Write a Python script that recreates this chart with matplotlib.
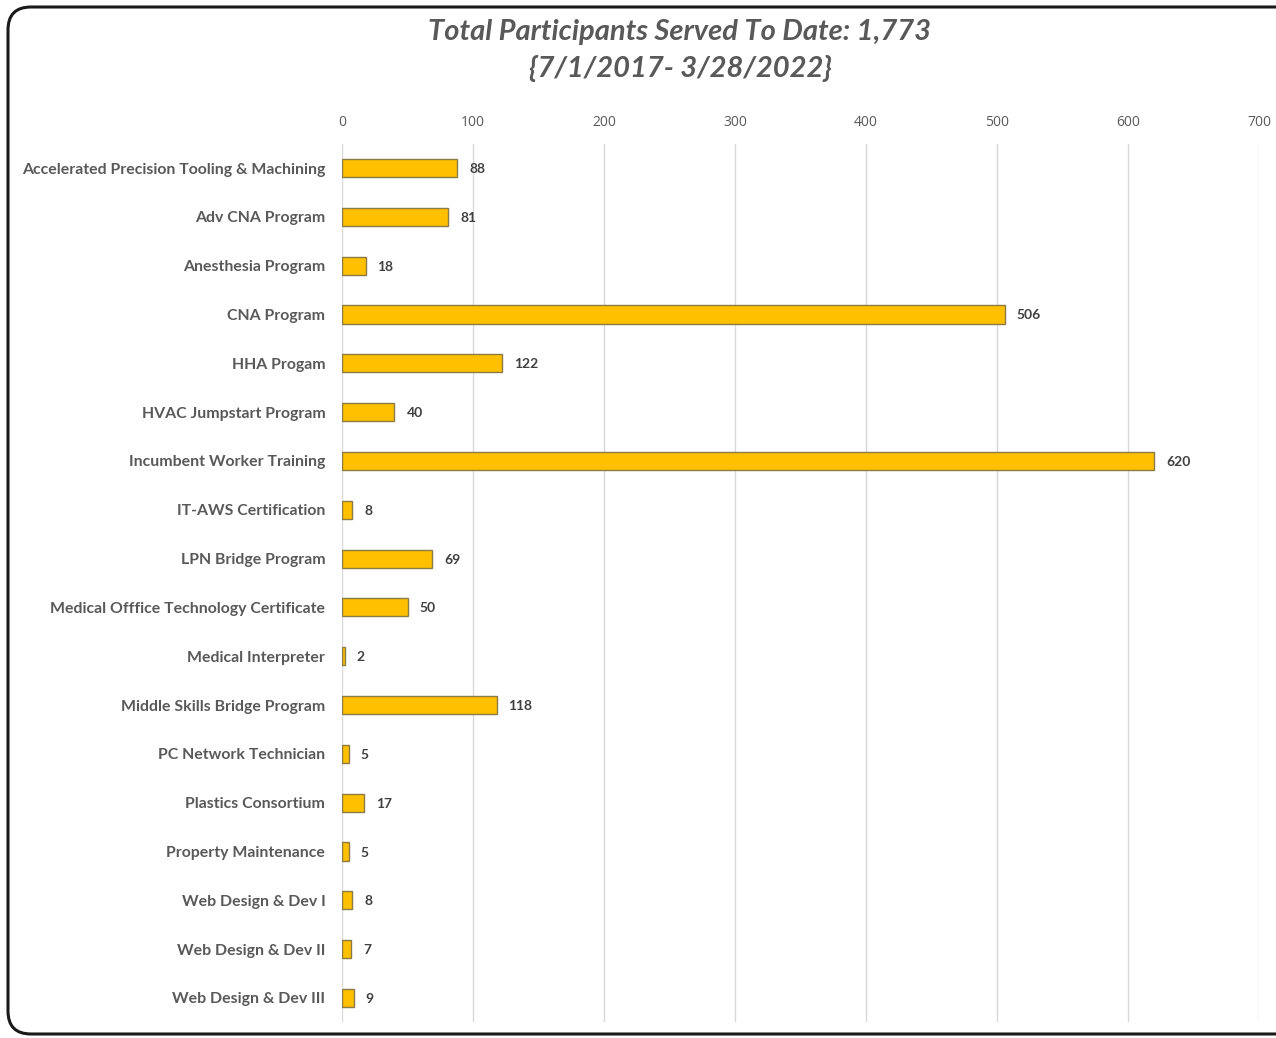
import matplotlib
matplotlib.use("Agg")
import matplotlib.pyplot as plt
from matplotlib.patches import FancyBboxPatch

categories = [
    "Accelerated Precision Tooling & Machining",
    "Adv CNA Program",
    "Anesthesia Program",
    "CNA Program",
    "HHA Progam",
    "HVAC Jumpstart Program",
    "Incumbent Worker Training",
    "IT-AWS Certification",
    "LPN Bridge Program",
    "Medical Offfice Technology Certificate",
    "Medical Interpreter",
    "Middle Skills Bridge Program",
    "PC Network Technician",
    "Plastics Consortium",
    "Property Maintenance",
    "Web Design & Dev I",
    "Web Design & Dev II",
    "Web Design & Dev III",
]
values = [88, 81, 18, 506, 122, 40, 620, 8, 69, 50, 2, 118, 5, 17, 5, 8, 7, 9]
xticks = [0, 100, 200, 300, 400, 500, 600, 700]
title_lines = ["Total Participants Served To Date: 1,773", "{7/1/2017- 3/28/2022}"]

W, H = 1276, 1038
fig = plt.figure(figsize=(W / 100, H / 100), dpi=100)
fig.patch.set_facecolor("white")

# rounded frame
frame = FancyBboxPatch((8 / W, 4 / H), 1.2, (1031 - 4) / H,
                       boxstyle="round,pad=0,rounding_size=0.018",
                       transform=fig.transFigure, facecolor="none",
                       edgecolor="#1a1a1a", linewidth=2.2, clip_on=False,
                       mutation_aspect=W / H)
fig.patches.append(frame)

n = len(categories)
ax_top = 1 - 143.6 / H
ax_bot = 1 - 1022.4 / H
ax = fig.add_axes([342 / W, ax_bot, (1259 - 342) / W, ax_top - ax_bot])
ypos = list(range(n))
ax.barh(ypos, values, height=0.37, color="#FFC000", edgecolor="#8C7A45", linewidth=1.0, zorder=3)
ax.set_ylim(n - 0.5, -0.5)
ax.set_xlim(0, 700)
ax.set_xticks(xticks)
ax.set_xticklabels([str(t) for t in xticks])
ax.xaxis.tick_top()
ax.tick_params(axis="x", length=0, pad=10, labelsize=10, labelcolor="#595959")
ax.tick_params(axis="y", length=0, pad=12)
ax.set_yticks(ypos)
ax.set_yticklabels(categories, fontsize=11.4, fontweight="bold", color="#595959", family="Lato")
for lab in ax.get_xticklabels():
    lab.set_family("Open Sans")
ax.grid(axis="x", color="#D9D9D9", linewidth=1.0, zorder=0)
for s in ax.spines.values():
    s.set_visible(False)

for y, v in zip(ypos, values):
    ax.annotate(str(v), (v, y), xytext=(12, -1), textcoords="offset pixels",
                va="center", ha="left", fontsize=10, fontweight="bold", color="#404040", family="Lato")

fig.text(680 / W, 1 - 32 / H, title_lines[0], ha="center", va="center", fontsize=21,
         fontstyle="italic", fontweight="bold", color="#595959", family="Lato")
fig.text(680 / W, 1 - 69 / H, title_lines[1], ha="center", va="center", fontsize=21,
         fontstyle="italic", fontweight="bold", color="#595959", family="Lato")

fig.savefig("out.png", dpi=100, facecolor="white")
